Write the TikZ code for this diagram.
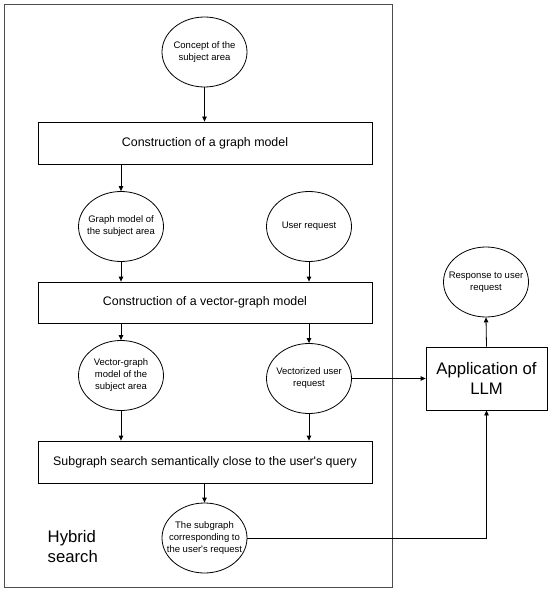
\documentclass[tikz,border=0pt]{standalone}
\usepackage{fontspec}
\setmainfont{Liberation Sans}
\usepackage{tikz}
\usetikzlibrary{arrows.meta,shapes.geometric}
\usepackage{xcolor}
\definecolor{framec}{HTML}{4D4D4D}

\begin{document}
\begin{tikzpicture}[x=1pt, y=-1pt, line width=0.8pt,
  blob/.style={draw, ellipse, minimum width=85pt, minimum height=70pt,
    inner xsep=-14pt, inner ysep=0pt, align=center,
    font=\fontsize{9.5}{12}\selectfont},
  stage/.style={draw, rectangle, minimum width=334pt, minimum height=42pt,
    font=\fontsize{12.4}{15}\selectfont},
  big/.style={font=\fontsize{16.7}{19.5}\selectfont},
  flow/.style={-{Triangle[length=5pt,width=4.5pt]}}]
  \useasboundingbox (0,0) rectangle (550,591);
  \draw[framec] (4,4) rectangle (392,587);
  \node[blob] (concept) at (204.5,52) {Concept of the\\subject area};
  \node[stage] (graphbox) at (205,143) {Construction of a graph model};
  \node[blob] (graphmodel) at (121,226.5) {Graph model of\\the subject area};
  \node[blob] (userreq) at (309,226.5) {User request};
  \node[stage, minimum height=41pt] (vgbox) at (205,302.5) {Construction of a vector-graph model};
  \node[blob] (vgmodel) at (121,375.5) {Vector-graph\\model of the\\subject area};
  \node[blob] (vecreq) at (309,378.5) {Vectorized user\\request};
  \node[stage] (searchbox) at (205,462) {Subgraph search semantically close to the user\textquotesingle s query};
  \node[blob] (subgraph) at (204.5,538) {The subgraph\\corresponding to\\the user\textquotesingle s request};
  \node[big, align=left, anchor=west] (hybrid) at (44,546.5) {Hybrid\\search};
  \node[draw, big, align=center, minimum width=121pt, minimum height=63pt] (llm) at (486.5,378.5) {Application of\\LLM};
  \node[blob] (response) at (486,282) {Response to user\\request};
  \draw[flow] (concept.south) -- (concept.south |- graphbox.north);
  \draw[flow] (graphmodel.north |- graphbox.south) -- (graphmodel.north);
  \draw[flow] (graphmodel.south) -- (graphmodel.south |- vgbox.north);
  \draw[flow] (userreq.south) -- (userreq.south |- vgbox.north);
  \draw[flow] (vgmodel.north |- vgbox.south) -- (vgmodel.north);
  \draw[flow] (vecreq.north |- vgbox.south) -- (vecreq.north);
  \draw[flow] (vgmodel.south) -- (vgmodel.south |- searchbox.north);
  \draw[flow] (vecreq.south) -- (vecreq.south |- searchbox.north);
  \draw[flow] (subgraph.north |- searchbox.south) -- (subgraph.north);
  \draw[flow] (vecreq.east) -- (llm.west);
  \draw[flow] (subgraph.east) -| (llm.south);
  \draw[flow] (llm.north) -- (response.south);
\end{tikzpicture}
\end{document}
